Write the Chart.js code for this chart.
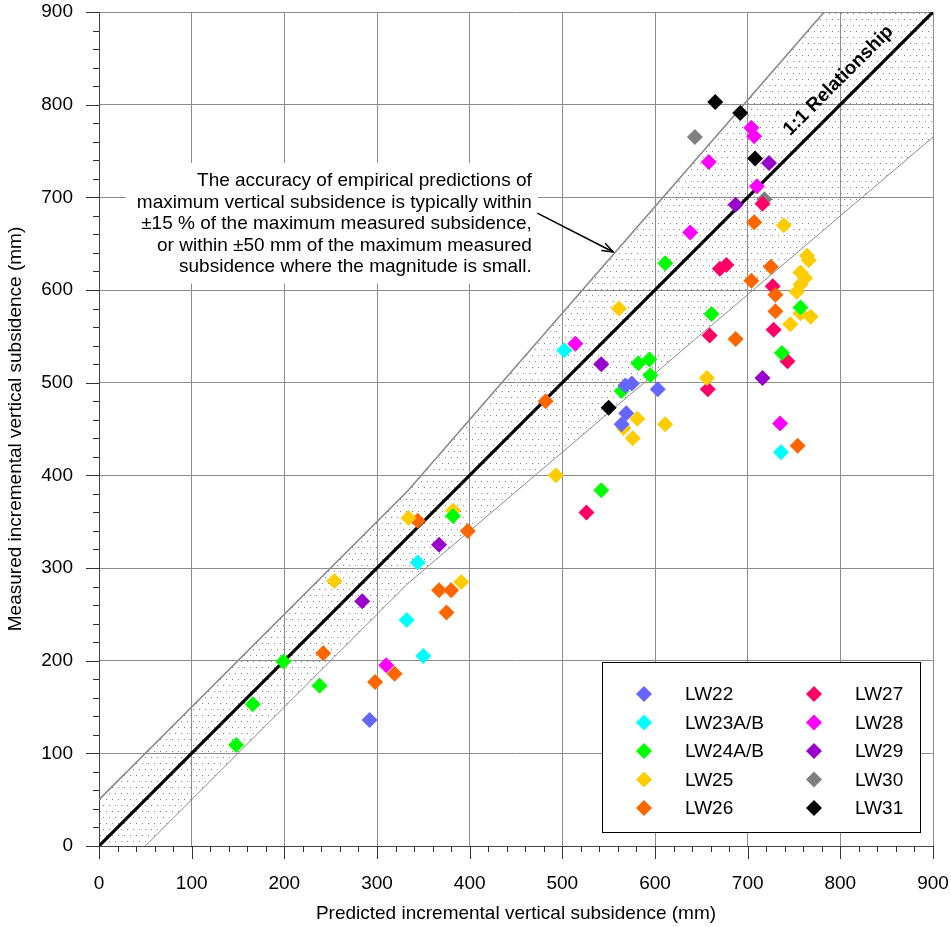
<!DOCTYPE html>
<html>
<head>
<meta charset="utf-8">
<script src="https://cdn.jsdelivr.net/npm/chart.js@4.4.0/dist/chart.umd.min.js"></script>
<style>
  html, body { margin: 0; padding: 0; background: #fff; }
</style>
</head>
<body>
<canvas id="chart" width="951" height="927"></canvas>
<script>
// series names and colours (legend order)
const seriesNames = ['LW22', 'LW23A/B', 'LW24A/B', 'LW25', 'LW26', 'LW27', 'LW28', 'LW29', 'LW30', 'LW31'];
const seriesColors = ['#6666FF', '#00FFFF', '#00FF00', '#FFCC00', '#FF6600', '#FF0066', '#FF00FF', '#9900CC', '#808080', '#000000'];

// predicted (x) / measured (y) incremental subsidence, mm
const lw22X = [292, 568, 575, 603, 569, 564];
const lw22Y = [136, 497, 499, 493, 467, 455];
const lw23X = [502, 344, 332, 350, 736];
const lw23Y = [535, 306, 244, 205, 425];
const lw24X = [148, 166, 199, 238, 382, 542, 582, 594, 595, 564, 611, 661, 737, 757];
const lw24Y = [109, 153, 199, 173, 356, 384, 521, 525, 508, 491, 629, 574, 532, 581];
const lw25X = [254, 334, 382, 391, 493, 561, 581, 566, 576, 611, 656, 739, 764, 766, 757, 762, 757, 753, 757, 768, 746];
const lw25Y = [286, 354, 362, 285, 400, 580, 461, 451, 440, 455, 505, 670, 637, 632, 619, 613, 606, 598, 575, 571, 563];
const lw26X = [242, 298, 319, 367, 380, 375, 344, 398, 482, 687, 730, 730, 754, 707, 725, 704];
const lw26Y = [208, 177, 186, 276, 276, 252, 351, 340, 480, 547, 577, 595, 432, 673, 625, 610];
const lw27X = [526, 659, 728, 743, 657, 670, 677, 727, 716];
const lw27Y = [360, 551, 557, 523, 493, 623, 627, 604, 693];
const lw28X = [310, 514, 638, 658, 704, 707, 710, 735];
const lw28Y = [195, 542, 662, 738, 775, 766, 712, 456];
const lw29X = [284, 367, 542, 716, 687, 723];
const lw29Y = [264, 325, 520, 505, 692, 737];
const lw30X = [643, 718];
const lw30Y = [765, 698];
const lw31X = [665, 692, 708, 550];
const lw31Y = [803, 791, 742, 473];

const seriesX = [lw22X, lw23X, lw24X, lw25X, lw26X, lw27X, lw28X, lw29X, lw30X, lw31X];
const seriesY = [lw22Y, lw23Y, lw24Y, lw25Y, lw26Y, lw27Y, lw28Y, lw29Y, lw30Y, lw31Y];

// +/-15 % or +/-50 mm envelope and the 1:1 line
const bandX = [0, 333.3, 782.6, 900];
const bandUpper = [50, 383.3, 900, 900];
const bandLower = [-50, 283.3, 665.2, 765];
const lineX = [0, 900];
const lineY = [0, 900];

const axisMin = 0;
const axisMax = 900;
const majorStep = 100;
const minorStep = 20;

const noteLines = [
    'The accuracy of empirical predictions of',
    'maximum vertical subsidence is typically within',
    '\u00b115 % of the maximum measured subsidence,',
    'or within \u00b150 mm of the maximum measured',
    'subsidence where the magnitude is small.'
];

const FONT = '"Liberation Sans", Arial, sans-serif';

function toPoints(xs, ys) {
    return xs.map((x, i) => ({ x: x, y: ys[i] }));
}

function dotPattern() {
    const c = document.createElement('canvas');
    c.width = 6;
    c.height = 12;
    const g = c.getContext('2d');
    g.fillStyle = '#888';
    g.fillRect(1, 1, 1, 1);
    g.fillRect(4, 7, 1, 1);
    return g.createPattern(c, 'repeat');
}

const datasets = seriesNames.map((name, i) => ({
    label: name,
    data: toPoints(seriesX[i], seriesY[i]),
    pointStyle: 'rectRot',
    pointRadius: 8,
    pointHoverRadius: 8,
    backgroundColor: seriesColors[i],
    borderColor: seriesColors[i],
    borderWidth: 0,
    order: 0
}));

datasets.push({
    label: 'upper',
    data: toPoints(bandX, bandUpper),
    showLine: true,
    pointRadius: 0,
    borderColor: '#8a8a8a',
    borderWidth: 1.6,
    fill: '+1',
    backgroundColor: dotPattern(),
    clip: 0,
    order: 2
});
datasets.push({
    label: 'lower',
    data: toPoints(bandX, bandLower),
    showLine: true,
    pointRadius: 0,
    borderColor: '#8a8a8a',
    borderWidth: 1,
    fill: false,
    clip: 0,
    order: 2
});
datasets.push({
    label: '1:1',
    data: toPoints(lineX, lineY),
    showLine: true,
    pointRadius: 0,
    borderColor: '#000',
    borderWidth: 3.2,
    fill: false,
    clip: 0,
    order: 1
});

const decor = {
    id: 'decor',
    beforeDatasetsDraw(chart) {
        const { ctx, scales: { x, y } } = chart;
        ctx.save();
        // major + minor tick marks on both axes
        ctx.strokeStyle = '#333';
        ctx.lineWidth = 1;
        for (let v = axisMin; v <= axisMax; v += minorStep) {
            const len = v % majorStep === 0 ? 13 : 6;
            const px = Math.round(x.getPixelForValue(v)) + 0.5;
            ctx.beginPath();
            ctx.moveTo(px, y.bottom);
            ctx.lineTo(px, y.bottom + len);
            ctx.stroke();
            const py = Math.round(y.getPixelForValue(v)) + 0.5;
            ctx.beginPath();
            ctx.moveTo(x.left, py);
            ctx.lineTo(x.left - len, py);
            ctx.stroke();
        }
        // note box
        const left = x.getPixelForValue(29);
        const right = x.getPixelForValue(473.5);
        const top = y.getPixelForValue(737);
        const bottom = y.getPixelForValue(607);
        ctx.fillStyle = '#fff';
        ctx.fillRect(left, top, right - left, bottom - top);
        ctx.fillStyle = '#000';
        ctx.font = '19px ' + FONT;
        ctx.textAlign = 'right';
        ctx.textBaseline = 'middle';
        noteLines.forEach((t, i) => {
            ctx.fillText(t, right - 6, top + 18 + i * 21.5);
        });
        // arrow to the upper limit
        const ax0 = x.getPixelForValue(473), ay0 = y.getPixelForValue(683);
        const ax1 = x.getPixelForValue(555), ay1 = y.getPixelForValue(641);
        ctx.strokeStyle = '#000';
        ctx.lineWidth = 1.5;
        ctx.beginPath();
        ctx.moveTo(ax0, ay0);
        ctx.lineTo(ax1, ay1);
        ctx.stroke();
        const ang = Math.atan2(ay1 - ay0, ax1 - ax0);
        ctx.beginPath();
        ctx.moveTo(ax1 - 12 * Math.cos(ang - 0.35), ay1 - 12 * Math.sin(ang - 0.35));
        ctx.lineTo(ax1, ay1);
        ctx.lineTo(ax1 - 12 * Math.cos(ang + 0.35), ay1 - 12 * Math.sin(ang + 0.35));
        ctx.stroke();
        ctx.restore();
    },
    afterDatasetsDraw(chart) {
        const { ctx, scales: { x, y } } = chart;
        ctx.save();
        // 1:1 label
        ctx.translate(x.getPixelForValue(798), y.getPixelForValue(826));
        ctx.rotate(-Math.PI / 4);
        ctx.font = 'bold 19px ' + FONT;
        ctx.fillStyle = '#000';
        ctx.textAlign = 'center';
        ctx.textBaseline = 'middle';
        ctx.fillText('1:1 Relationship', 0, 0);
        ctx.restore();

        // legend box, two columns of five
        const area = chart.chartArea;
        const bx = area.right - 331, by = area.bottom - 184, bw = 318, bh = 170;
        ctx.save();
        ctx.fillStyle = '#fff';
        ctx.fillRect(bx, by, bw, bh);
        ctx.strokeStyle = '#000';
        ctx.lineWidth = 1;
        ctx.strokeRect(Math.round(bx) + 0.5, Math.round(by) + 0.5, bw, bh);
        ctx.font = '19px ' + FONT;
        ctx.textAlign = 'left';
        ctx.textBaseline = 'middle';
        seriesNames.forEach((name, i) => {
            const col = Math.floor(i / 5), row = i % 5;
            const mx = bx + 42 + col * 170;
            const my = by + 32 + row * 28.5;
            ctx.fillStyle = seriesColors[i];
            ctx.beginPath();
            ctx.moveTo(mx - 8, my);
            ctx.lineTo(mx, my - 8);
            ctx.lineTo(mx + 8, my);
            ctx.lineTo(mx, my + 8);
            ctx.closePath();
            ctx.fill();
            ctx.fillStyle = '#000';
            ctx.fillText(name, mx + 41, my + 1);
        });
        ctx.restore();
    }
};

const tickFont = { family: FONT, size: 19 };

function noPad(s) {
    s.paddingTop = 0;
    s.paddingBottom = 0;
    s.paddingLeft = 0;
    s.paddingRight = 0;
}

new Chart(document.getElementById('chart'), {
    type: 'scatter',
    data: { datasets: datasets },
    plugins: [decor],
    options: {
        responsive: false,
        animation: false,
        layout: { padding: { top: 12, right: 18, left: 0, bottom: 0 } },
        plugins: { legend: { display: false }, tooltip: { enabled: false } },
        scales: {
            x: {
                type: 'linear',
                min: axisMin,
                max: axisMax,
                afterFit: s => { s.height = 81; noPad(s); },
                ticks: { stepSize: majorStep, padding: 26, color: '#000', font: tickFont, maxRotation: 0 },
                grid: { drawTicks: false, color: '#8c8c8c', lineWidth: 1 },
                border: { color: '#444', width: 1 },
                title: {
                    display: true,
                    text: 'Predicted incremental vertical subsidence (mm)',
                    color: '#000',
                    font: tickFont,
                    padding: { top: 0, bottom: 2 }
                }
            },
            y: {
                type: 'linear',
                min: axisMin,
                max: axisMax,
                afterFit: s => { s.width = 99; noPad(s); },
                ticks: { stepSize: majorStep, padding: 26, color: '#000', font: tickFont },
                grid: { drawTicks: false, color: '#8c8c8c', lineWidth: 1 },
                border: { color: '#444', width: 1 },
                title: {
                    display: true,
                    text: 'Measured incremental vertical subsidence (mm)',
                    color: '#000',
                    font: tickFont,
                    padding: { top: 4, bottom: 0 }
                }
            }
        }
    }
});
</script>
</body>
</html>
